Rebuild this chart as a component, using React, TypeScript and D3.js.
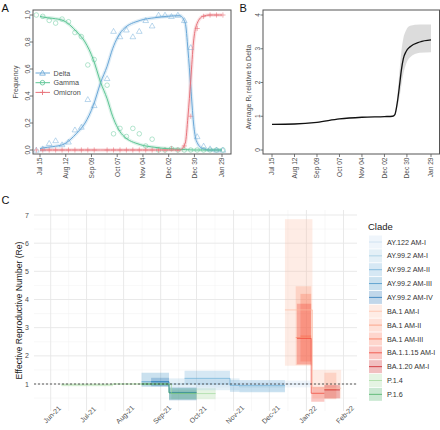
import React from 'react';
import * as d3 from 'd3';

const FONT = "'Liberation Sans', Arial, Helvetica, sans-serif";

// ---------- Panel A: variant frequencies ----------
const obsDates = ['2021-07-11','2021-07-18','2021-07-25','2021-08-01','2021-08-08','2021-08-15','2021-08-22','2021-08-29','2021-09-05','2021-09-12','2021-09-19','2021-09-26','2021-10-03','2021-10-10','2021-10-17','2021-10-24','2021-10-31','2021-11-07','2021-11-14','2021-11-21','2021-11-28','2021-12-05','2021-12-12','2021-12-19','2021-12-26','2022-01-02','2022-01-09','2022-01-16','2022-01-23','2022-01-30'];
const deltaObs = [0.0,0.01,0.05,0.07,0.04,0.06,0.15,0.17,0.375,0.33,null,0.53,0.88,0.84,0.89,0.84,0.88,0.96,0.92,1.0,1.0,0.99,1.0,0.96,0.76,0.10,0.03,0.01,0.0,0.0];
const gammaObs = [1.0,0.99,0.96,0.94,0.97,0.95,0.87,0.84,0.63,0.67,null,0.48,0.12,0.16,0.10,0.16,0.12,0.03,0.08,0.0,0.0,0.01,0.0,0.0,0.0,0.0,0.0,0.0,0.0,0.0];
const omicronObs = [0,0,0,0,0,0,0,0,0,0,null,0,0,0,0,0,0,0,0,0,0,0.01,0,0.03,0.25,0.90,0.99,1.0,1.0,1.0];

// fitted curves, days after Jul 15 2021
const fitDays = [0,3,14,25,40,49,58,66,73,79,90,109,125,138,152,158,161,164,167,170,177,185,198];
const deltaFit = [0.01,0.015,0.025,0.04,0.125,0.2,0.33,0.5,0.62,0.75,0.89,0.96,0.98,0.99,0.995,0.94,0.74,0.47,0.2,0.07,0.01,0.0,0.0];
const gammaFit = [0.99,0.985,0.975,0.96,0.875,0.8,0.67,0.5,0.38,0.25,0.11,0.04,0.02,0.01,0.005,0.003,0.002,0.001,0,0,0,0,0];
const omicronFit = [0,0,0,0,0,0,0,0,0,0,0,0,0,0,0,0.05,0.25,0.52,0.8,0.92,0.99,1.0,1.0];

const abTickDates = ['2021-07-15','2021-08-12','2021-09-09','2021-10-07','2021-11-04','2021-12-02','2021-12-30','2022-01-29'];
const abTickLabels = ['Jul 15','Aug 12','Sep 09','Oct 07','Nov 04','Dec 02','Dec 30','Jan 29'];
const aYTicks = [0, 0.2, 0.4, 0.6, 0.8, 1.0];

// ---------- Panel B: average Rt relative to Delta ----------
const bDays = [0,28,56,84,112,140,150,153,156,159,161,163.5,167,172,184,198];
const bMean = [0.76,0.77,0.82,0.92,0.97,0.99,1.0,1.05,1.4,1.95,2.35,2.7,2.92,3.06,3.2,3.26];
const bLow = [0.75,0.76,0.81,0.91,0.96,0.985,0.99,1.02,1.25,1.6,1.9,2.25,2.55,2.75,2.88,2.9];
const bHigh = [0.77,0.78,0.83,0.93,0.98,1.0,1.01,1.1,1.6,2.4,2.9,3.3,3.55,3.68,3.72,3.72];
const bYTicks = [0, 1, 2, 3, 4];

// ---------- Panel C: effective reproductive number by clade ----------
const cladeNames = ['AY.122 AM-I','AY.99.2 AM-I','AY.99.2 AM-II','AY.99.2 AM-III','AY.99.2 AM-IV','BA.1 AM-I','BA.1 AM-II','BA.1 AM-III','BA.1.1.15 AM-I','BA.1.20 AM-I','P.1.4','P.1.6'];
const segClade = ['P.1.4','P.1.4','P.1.4','P.1.6','P.1.6','AY.99.2 AM-III','AY.99.2 AM-IV','AY.99.2 AM-IV','AY.99.2 AM-II','AY.99.2 AM-II','AY.99.2 AM-I','AY.99.2 AM-I','AY.122 AM-I','BA.1 AM-I','BA.1 AM-I','BA.1 AM-II','BA.1 AM-II','BA.1 AM-III','BA.1.1.15 AM-I','BA.1.1.15 AM-I','BA.1.20 AM-I'];
const segStart = ['2021-06-10','2021-07-23','2021-09-10','2021-08-16','2021-09-08','2021-08-16','2021-08-24','2021-09-08','2021-09-21','2021-10-29','2021-09-08','2021-11-06','2021-10-01','2021-12-14','2022-01-06','2021-12-23','2022-01-16','2021-12-27','2021-12-24','2022-01-05','2022-01-16'];
const segEnd = ['2021-07-23','2021-09-10','2021-10-17','2021-09-08','2021-10-01','2021-09-08','2021-09-08','2021-10-01','2021-10-29','2021-12-14','2021-11-06','2021-12-14','2022-01-04','2022-01-06','2022-01-30','2022-01-05','2022-01-26','2022-01-05','2022-01-05','2022-01-16','2022-01-29'];
const segLow = [0.92,0.97,0.46,0.95,0.45,0.9,0.92,0.42,1.0,0.72,0.78,0.7,0.88,1.65,0.49,1.67,0.46,1.8,1.7,0.37,0.49];
const segHigh = [1.02,1.03,0.85,1.05,0.85,1.4,1.22,0.88,1.47,1.14,1.2,1.05,1.12,6.85,1.5,4.47,1.4,4.2,3.85,0.9,0.96];
const segMed = [0.97,1.0,0.66,1.0,0.68,1.08,1.08,0.7,1.2,0.95,1.0,0.9,1.0,3.63,0.85,2.65,0.8,2.7,2.62,0.67,0.79];
const cYTicks = [1, 2, 3, 4, 5, 6, 7];
const cYMinor = [0.5, 1.5, 2.5, 3.5, 4.5, 5.5, 6.5];
const cMonthTicks = ['2021-06-01','2021-07-01','2021-08-01','2021-09-01','2021-10-01','2021-11-01','2021-12-01','2022-01-01','2022-02-01'];

// styles
const cladeColors = ['#c6dbef','#9ecae1','#6baed6','#4292c6','#2171b5','#fcbba1','#fc9272','#fb6a4a','#ef3b2c','#cb181d','#a1d99b','#41ab5d'];
const C_DELTA = '#6aa8d8';
const C_GAMMA = '#5cc594';
const C_OMI = '#e8747c';
const AXIS_TXT = '#4d4d4d';

const parse = d3.timeParse('%Y-%m-%d');
const BASE = new Date(2021, 6, 15);
const dayToDate = (d: number) => new Date(BASE.getTime() + d * 864e5);

export default function App() {
  const xA = d3.scaleTime().domain([parse('2021-07-15')!, parse('2022-01-29')!]).range([40, 222]);
  const yA = d3.scaleLinear().domain([0, 1]).range([150, 15]);
  const xB = d3.scaleTime().domain([parse('2021-07-15')!, parse('2022-01-29')!]).range([272, 431]);
  const yB = d3.scaleLinear().domain([0, 4]).range([150, 15]);
  const xC = d3.scaleTime().domain([parse('2021-06-01')!, parse('2022-02-01')!]).range([50.7, 343.5]);
  const yC = d3.scaleLinear().domain([1, 7]).range([384, 215]);

  const A = { l: 33, r: 231, t: 10, b: 154 };
  const B = { l: 263, r: 439.5, t: 10, b: 154 };
  const C = { l: 34, r: 357, t: 210, b: 411 };

  const fitLine = (vals: number[]) =>
    d3.line<number>()
      .x((_, i) => xA(dayToDate(fitDays[i])))
      .y((v) => yA(v))
      .curve(d3.curveMonotoneX)(vals) || '';

  const bLine = d3.line<number>()
    .x((_, i) => xB(dayToDate(bDays[i])))
    .y((v) => yB(v))
    .curve(d3.curveMonotoneX)(bMean) || '';
  const bArea = d3.area<number>()
    .x((_, i) => xB(dayToDate(bDays[i])))
    .y0((_, i) => yB(bLow[i]))
    .y1((_, i) => yB(bHigh[i]))
    .curve(d3.curveMonotoneX)(bMean) || '';

  const tri = d3.symbol(d3.symbolTriangle, 14)() || '';
  const plus = 'M-2.6,0H2.6M0,-2.6V2.6';

  const marker = (kind: string, x: number, y: number, key: string, op = 0.5) => {
    if (kind === 'tri')
      return <path key={key} d={tri} transform={`translate(${x},${y + 0.5})`} fill="none" stroke={C_DELTA} strokeWidth={0.9} opacity={op} />;
    if (kind === 'circ')
      return <circle key={key} cx={x} cy={y} r={2.3} fill="none" stroke={C_GAMMA} strokeWidth={0.9} opacity={op} />;
    return <path key={key} d={plus} transform={`translate(${x},${y})`} fill="none" stroke={C_OMI} strokeWidth={0.9} opacity={op + 0.15} />;
  };

  const obsSeries: [string, (number | null)[]][] = [['circ', gammaObs], ['tri', deltaObs], ['plus', omicronObs]];

  const segs = segClade.map((c, i) => ({
    clade: c,
    x0: xC(parse(segStart[i])!),
    x1: xC(parse(segEnd[i])!),
    lo: yC(segLow[i]),
    hi: yC(segHigh[i]),
    med: yC(segMed[i]),
    color: cladeColors[cladeNames.indexOf(c)],
  }));
  const medPaths = cladeNames.map((c) => {
    const s = segs.filter((d) => d.clade === c).sort((a, b) => a.x0 - b.x0);
    let p = '';
    let prevEnd: number | null = null;
    s.forEach((d) => {
      if (prevEnd !== null && Math.abs(d.x0 - prevEnd) < 1.5) p += `V${d.med}H${d.x1}`;
      else p += `M${d.x0},${d.med}H${d.x1}`;
      prevEnd = d.x1;
    });
    return { c, p, color: cladeColors[cladeNames.indexOf(c)] };
  });

  const monthDates = cMonthTicks.map((s) => parse(s)!);
  const minorX: number[] = [];
  for (let i = 0; i < monthDates.length - 1; i++) minorX.push((xC(monthDates[i]) + xC(monthDates[i + 1])) / 2);
  const fmtC = d3.timeFormat('%b-%y');

  return (
    <svg width={440} height={430} style={{ position: 'absolute', left: 0, top: 0, background: '#fff' }} fontFamily={FONT}>
      <rect x={0} y={0} width={440} height={430} fill="#fff" />

      {/* ================= Panel A ================= */}
      <text x={1.5} y={11.8} fontSize={11} fill="#111">A</text>
      {[[deltaFit, C_DELTA], [gammaFit, C_GAMMA], [omicronFit, C_OMI]].map(([v, c], i) => (
        <path key={'rib' + i} d={fitLine(v as number[])} fill="none" stroke={c as string} strokeWidth={3.6} opacity={0.22} />
      ))}
      {obsSeries.map(([kind, vals]) =>
        vals.map((v, i) => (v === null ? null : marker(kind, xA(parse(obsDates[i])!), yA(v), kind + i)))
      )}
      {[[deltaFit, C_DELTA], [gammaFit, C_GAMMA], [omicronFit, C_OMI]].map(([v, c], i) => (
        <path key={'fit' + i} d={fitLine(v as number[])} fill="none" stroke={c as string} strokeWidth={1} />
      ))}
      {[['Delta', 'tri', C_DELTA], ['Gamma', 'circ', C_GAMMA], ['Omicron', 'plus', C_OMI]].map(([lab, kind, c], i) => {
        const y = 73 + i * 9.7;
        return (
          <g key={'lgA' + i}>
            <line x1={35.5} x2={50} y1={y} y2={y} stroke={c} strokeWidth={1} />
            {marker(kind, 42.5, y, 'lgm' + i, 0.9)}
            <text x={53.5} y={y + 2.5} fontSize={7.2} fill={AXIS_TXT}>{lab}</text>
          </g>
        );
      })}
      <rect x={A.l} y={A.t} width={A.r - A.l} height={A.b - A.t} fill="none" stroke="#555" strokeWidth={1} />
      {aYTicks.map((t) => (
        <g key={'ayt' + t}>
          <line x1={A.l - 3} x2={A.l} y1={yA(t)} y2={yA(t)} stroke="#555" strokeWidth={0.8} />
          <text transform={`translate(${A.l - 3.5},${yA(t)}) rotate(-90)`} textAnchor="middle" fontSize={6.6} fill={AXIS_TXT}>{t.toFixed(1)}</text>
        </g>
      ))}
      <text transform={`translate(17.5,${(A.t + A.b) / 2}) rotate(-90)`} textAnchor="middle" fontSize={7} fill={AXIS_TXT}>Frequency</text>
      {abTickDates.map((s, i) => {
        const x = xA(parse(s)!);
        return (
          <g key={'axt' + i}>
            <line x1={x} x2={x} y1={A.b} y2={A.b + 3} stroke="#555" strokeWidth={0.8} />
            <text transform={`translate(${x + 2.4},${A.b + 3.5}) rotate(-90)`} textAnchor="end" fontSize={6.6} fill={AXIS_TXT}>{abTickLabels[i]}</text>
          </g>
        );
      })}

      {/* ================= Panel B ================= */}
      <text x={239.5} y={11.8} fontSize={11} fill="#111">B</text>
      <path d={bArea} fill="#d6d6d6" opacity={0.85} />
      <path d={bLine} fill="none" stroke="#111" strokeWidth={1.3} />
      <rect x={B.l} y={B.t} width={B.r - B.l} height={B.b - B.t} fill="none" stroke="#555" strokeWidth={1} />
      {bYTicks.map((t) => (
        <g key={'byt' + t}>
          <line x1={B.l - 2.5} x2={B.l} y1={yB(t)} y2={yB(t)} stroke="#555" strokeWidth={0.8} />
          <text transform={`translate(${B.l - 3},${yB(t)}) rotate(-90)`} textAnchor="middle" fontSize={6.6} fill={AXIS_TXT}>{t}</text>
        </g>
      ))}
      <text transform={`translate(250.5,${(B.t + B.b) / 2 + 5}) rotate(-90)`} textAnchor="middle" fontSize={7} fill={AXIS_TXT}>
        Average R<tspan fontSize={5} dy={1.8}>t</tspan><tspan dy={-1.8}> relative to Delta</tspan>
      </text>
      {abTickDates.map((s, i) => {
        const x = xB(parse(s)!);
        return (
          <g key={'bxt' + i}>
            <line x1={x} x2={x} y1={B.b} y2={B.b + 3} stroke="#555" strokeWidth={0.8} />
            <text transform={`translate(${x + 2.4},${B.b + 3.5}) rotate(-90)`} textAnchor="end" fontSize={6.6} fill={AXIS_TXT}>{abTickLabels[i]}</text>
          </g>
        );
      })}

      {/* ================= Panel C ================= */}
      <text x={1.5} y={203.5} fontSize={11} fill="#111">C</text>
      {cYMinor.map((v) => (
        <line key={'cym' + v} x1={C.l} x2={C.r} y1={yC(v)} y2={yC(v)} stroke="#f0f0f0" strokeWidth={0.5} />
      ))}
      {minorX.map((x, i) => (
        <line key={'cxm' + i} x1={x} x2={x} y1={C.t} y2={C.b} stroke="#f0f0f0" strokeWidth={0.5} />
      ))}
      {cYTicks.map((v) => (
        <line key={'cyM' + v} x1={C.l} x2={C.r} y1={yC(v)} y2={yC(v)} stroke="#e6e6e6" strokeWidth={0.9} />
      ))}
      {monthDates.map((d, i) => (
        <line key={'cxM' + i} x1={xC(d)} x2={xC(d)} y1={C.t} y2={C.b} stroke="#e6e6e6" strokeWidth={0.9} />
      ))}
      {segs.map((s, i) => (
        <rect key={'seg' + i} x={s.x0} y={s.hi} width={s.x1 - s.x0} height={s.lo - s.hi} fill={s.color} fillOpacity={0.28} />
      ))}
      {medPaths.map((m) => (
        <path key={'med' + m.c} d={m.p} fill="none" stroke={m.color} strokeWidth={0.9} strokeOpacity={0.75} />
      ))}
      <line x1={C.l} x2={C.r} y1={yC(1)} y2={yC(1)} stroke="#333" strokeWidth={0.8} strokeDasharray="2,2" />
      {cYTicks.map((v) => (
        <text key={'cyl' + v} x={29} y={yC(v) + 2.5} textAnchor="end" fontSize={7} fill={AXIS_TXT}>{v}</text>
      ))}
      <text transform={`translate(22,${(C.t + C.b) / 2}) rotate(-90)`} textAnchor="middle" fontSize={8.6} fill="#1a1a1a">Effective Reproductive Number (Re)</text>
      {monthDates.map((d, i) => (
        <text key={'cxl' + i} transform={`translate(${xC(d) + 1.5},${C.b + 3.5}) rotate(-45)`} textAnchor="middle" dy="0.35em" fontSize={7} fill={AXIS_TXT}>{fmtC(d)}</text>
      ))}
      <text x={368} y={230} fontSize={9.5} fill="#1a1a1a">Clade</text>
      {cladeNames.map((c, i) => {
        const cy = 242 + i * 13.85;
        return (
          <g key={'lgC' + i}>
            <rect x={369} y={cy - 6.5} width={13} height={13} fill={cladeColors[i]} fillOpacity={0.28} />
            <line x1={369} x2={382} y1={cy} y2={cy} stroke={cladeColors[i]} strokeWidth={1} strokeOpacity={0.75} />
            <text x={387} y={cy + 2.6} fontSize={7.2} fill="#333">{c}</text>
          </g>
        );
      })}
    </svg>
  );
}
